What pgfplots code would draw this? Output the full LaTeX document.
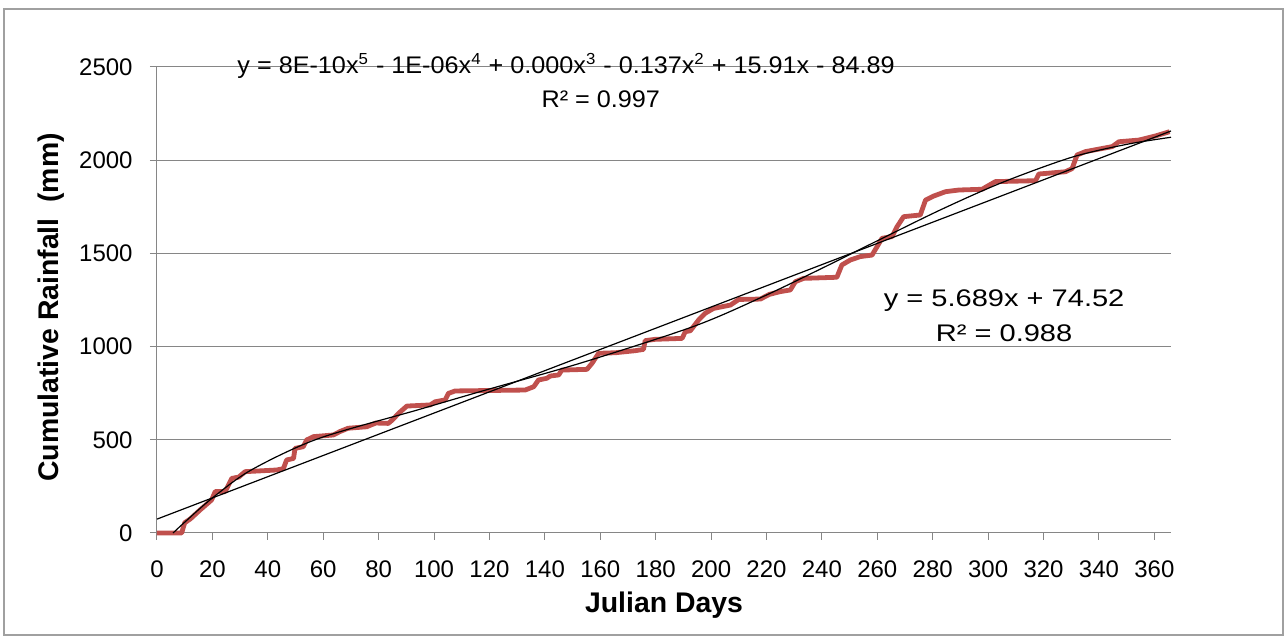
\documentclass[border=0pt]{standalone}
\usepackage{fontspec}
\setmainfont{Liberation Sans}
\usepackage{graphicx}
\usepackage{pgfplots}
\pgfplotsset{compat=1.18}

\definecolor{rain}{RGB}{192,80,77}
\definecolor{gridgray}{RGB}{134,134,134}
\definecolor{framegray}{RGB}{160,160,160}

\begin{document}
\begin{tikzpicture}
\useasboundingbox (-78.5pt,-51.5pt) rectangle (564pt,266.5pt);
\draw[framegray, line width=1pt] (-76.5pt,-51pt) rectangle (563pt,262pt);
\begin{axis}[
    at={(0pt,0pt)}, anchor=south west,
    width=507pt, height=233pt, scale only axis,
    xmin=0, xmax=366, ymin=0, ymax=2500,
    xtick={0,20,...,360}, ytick={0,500,...,2500},
    axis x line*=bottom, axis y line*=left,
    ymajorgrids,
    grid style={gridgray, line width=0.5pt},
    axis line style={gridgray, line width=0.5pt},
    tick style={gridgray, line width=0.5pt},
    tick align=outside, major tick length=3.5pt,
    tick label style={font=\fontsize{12}{14}\selectfont, inner sep=0pt},
    /pgf/number format/assume math mode=true,
    /pgf/number format/1000 sep={},
    xticklabel shift=10.3pt, yticklabel shift=8.5pt,
    every axis x label/.style={at={(axis description cs:0.5,0)}, anchor=base, yshift=-40pt, font=\fontsize{14.2}{16}\selectfont\bfseries},
    every axis y label/.style={at={(axis description cs:0,0.484)}, xshift=-49pt, rotate=90, anchor=base, font=\fontsize{14.2}{16}\selectfont\bfseries},
    xlabel={Julian Days},
    ylabel={Cumulative Rainfall\ \ (mm)},
    clip=false,
]
% cumulative rainfall
\addplot[rain, line width=2.4pt, line join=round] coordinates {
(0,0) (8.9,0) (10,55) (12,75) (15.5,123) (19.7,177) (21,222) (24.6,222)
(27,293) (29.5,300) (31.8,329) (43.2,338) (45.6,345) (46.8,392) (49.3,400)
(49.8,454) (52.8,463) (54,499) (56.5,517) (63.7,526) (66,544) (69,562)
(75.7,570) (79,590) (83.5,588) (85,607) (87.2,642) (90.2,681) (98.6,687)
(100.4,704) (104,714) (105.2,749) (107.6,762) (132.9,767) (136,785)
(137.7,821) (140.7,830) (141.9,842) (145,848) (146.1,874) (155.2,878)
(157,910) (159.4,964) (165.4,967) (172.6,978) (175.6,985) (176.2,1032)
(179.8,1039) (189.5,1044) (190.7,1080) (192.5,1085) (195.5,1143)
(197.9,1179) (200.9,1205) (207,1223) (210,1253) (217.8,1255) (221,1280)
(225,1295) (228.6,1304) (230.4,1348) (233.4,1366) (245.4,1372)
(247.2,1438) (250.3,1465) (253.9,1483) (258.1,1491) (259.9,1536)
(261.7,1581) (265.3,1590) (267.1,1643) (269.5,1697) (275.5,1706)
(277.4,1786) (280.4,1808) (284.6,1831) (289.4,1840) (297.8,1844)
(302.6,1885) (317.1,1890) (318.3,1926) (327.9,1938) (330.3,1955)
(332.1,2028) (335.1,2046) (344.8,2073) (347.2,2099) (354.4,2108)
(360.4,2130) (365.5,2153)
};
% linear trend
\addplot[black, line width=0.6pt] coordinates {(0,74.52) (366,2156.7)};
% polynomial trend
\addplot[black, line width=0.6pt, smooth] coordinates {
(5.8,0) (10,58) (20,188) (34,338) (58,505) (94,660) (117,760) (153,912)
(194,1110) (219,1270) (240,1420) (261,1575) (283,1735) (305,1880)
(330,2015) (350,2085) (366,2123)
};
\node[anchor=base west, inner sep=0pt, font=\fontsize{12}{14}\selectfont] at (axis cs:28.9,2464)
  {\scalebox{1.05}[1]{y = 8E-10x\textsuperscript{5} - 1E-06x\textsuperscript{4} + 0.000x\textsuperscript{3} - 0.137x\textsuperscript{2} + 15.91x - 84.89}};
\node[anchor=base west, inner sep=0pt, font=\fontsize{12}{14}\selectfont] at (axis cs:138.7,2285) {\scalebox{1.05}[1]{R² = 0.997}};
\node[anchor=base west, inner sep=0pt, font=\fontsize{12}{14}\selectfont] at (axis cs:262.2,1214) {\scalebox{1.21}[1]{y = 5.689x + 74.52}};
\node[anchor=base west, inner sep=0pt, font=\fontsize{12}{14}\selectfont] at (axis cs:281,1026) {\scalebox{1.21}[1]{R² = 0.988}};
\end{axis}
\end{tikzpicture}
\end{document}
